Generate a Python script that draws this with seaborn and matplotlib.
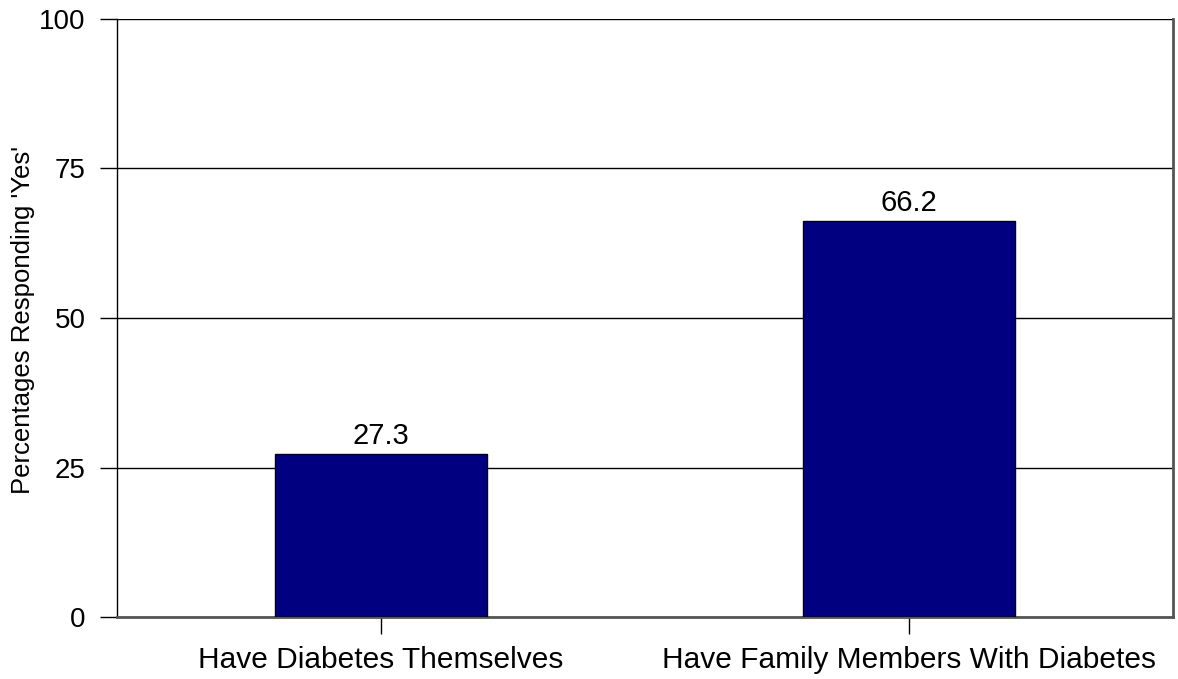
import matplotlib
matplotlib.use("Agg")
import matplotlib.pyplot as plt
import seaborn as sns
import pandas as pd

# data
categories = ['Have Diabetes Themselves', 'Have Family Members With Diabetes']
percent_yes = [27.3, 66.2]
y_ticks = [0, 25, 50, 75, 100]

df = pd.DataFrame({'group': categories, 'pct': percent_yes})

sns.set_style('white')
plt.rcParams['font.family'] = ['Liberation Sans', 'DejaVu Sans']
plt.rcParams['text.color'] = 'black'
plt.rcParams['axes.labelcolor'] = 'black'
plt.rcParams['xtick.color'] = 'black'
plt.rcParams['ytick.color'] = 'black'

fig = plt.figure(figsize=(11.78, 6.79), dpi=100)
ax = fig.add_axes([117 / 1178, 1 - 617 / 679, (1173 - 117) / 1178, (617 - 19) / 679])

sns.barplot(data=df, x='group', y='pct', color='#000080', saturation=1,
            width=0.4, edgecolor='black', linewidth=1, ax=ax, zorder=3)

ax.set_ylim(0, 100)
ax.set_yticks(y_ticks)
ax.yaxis.grid(True, color='black', linewidth=1, zorder=0)
ax.set_axisbelow(True)

for i, v in enumerate(percent_yes):
    ax.text(i, v + 0.7, f'{v:.1f}', ha='center', va='bottom', fontsize=21)

ax.set_xlabel('')
ax.set_ylabel('')
fig.text(23 / 1178, 1 - 320 / 679, "Percentages Responding 'Yes'", rotation=90,
         ha='center', va='center', fontsize=18.5)
ax.tick_params(axis='y', direction='out', length=12.2, width=1,
               labelsize=20, pad=10.5, left=True)
ax.tick_params(axis='x', direction='out', length=12.2, width=1,
               labelsize=21.5, pad=9, bottom=True)

for s in ['left', 'top']:
    ax.spines[s].set_color('black')
    ax.spines[s].set_linewidth(1)
for s in ['right', 'bottom']:
    ax.spines[s].set_color('#555555')
    ax.spines[s].set_linewidth(2)
ax.spines['top'].set_visible(False)

fig.savefig('out.png', dpi=100)
